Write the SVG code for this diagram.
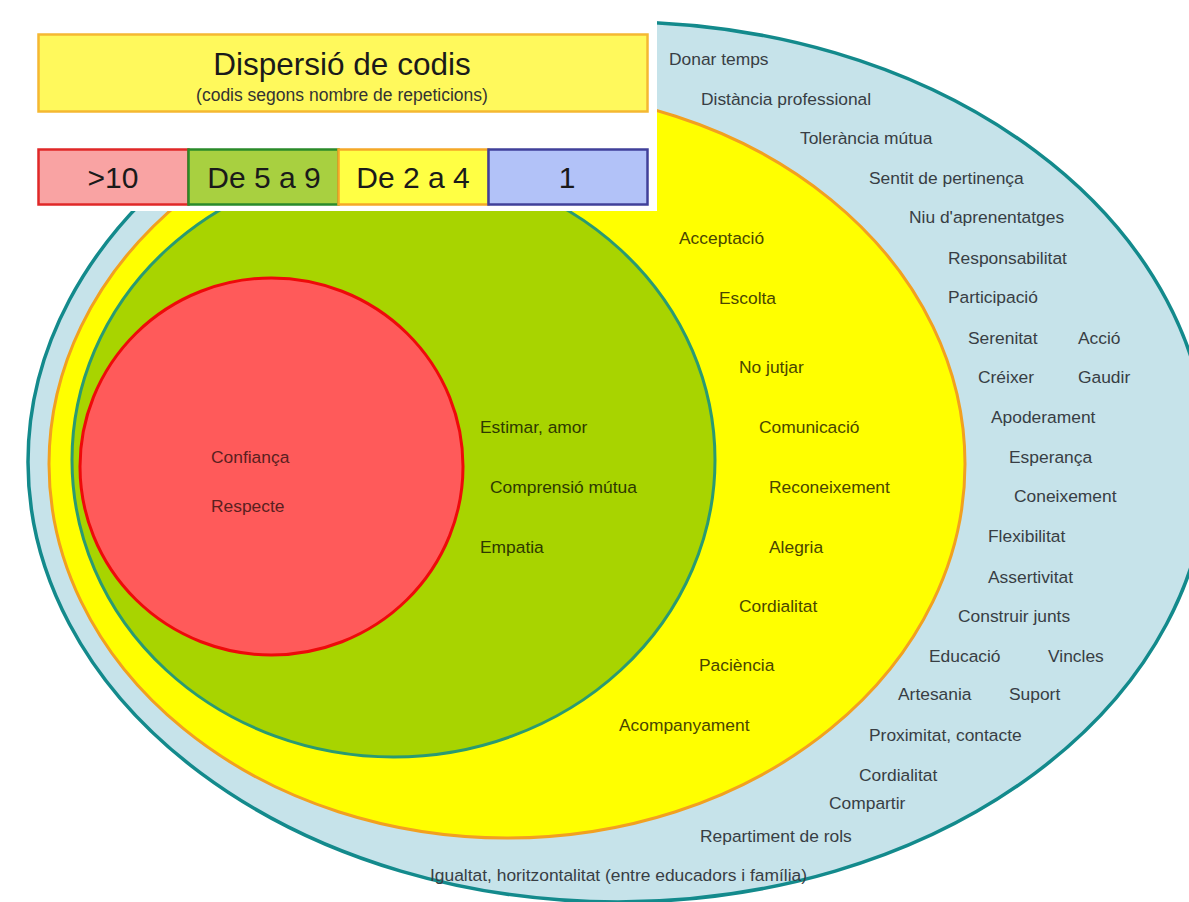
<svg xmlns="http://www.w3.org/2000/svg" width="1189" height="902" viewBox="0 0 1189 902">
<style>
.lbl{font-family:"Liberation Sans",Arial,sans-serif;font-size:17.4px;fill:#383e44}
.ly{fill:#4a4600}
.lg{fill:#2e3a00}
.lr{fill:#5a2020}
.leg{font-family:"Liberation Sans",Arial,sans-serif;font-size:30px;fill:#1a1a1a;text-anchor:middle}
</style>
<rect x="0" y="0" width="1189" height="902" fill="#ffffff"/>
<g id="ring-1">
<ellipse cx="618" cy="462" rx="590" ry="440" fill="#c6e3ea" stroke="#138a8c" stroke-width="3.5"/>
</g>
<g id="ring-2-4">
<ellipse cx="507" cy="464" rx="458" ry="374" fill="#ffff00" stroke="#f2a020" stroke-width="3"/>
</g>
<g id="ring-5-9">
<ellipse cx="393.5" cy="460" rx="321.5" ry="297" fill="#a8d400" stroke="#2a9a72" stroke-width="3"/>
</g>
<g id="core-10">
<ellipse cx="271.5" cy="466.5" rx="191.5" ry="188.5" fill="#ff5a5a" stroke="#ee0a0a" stroke-width="3"/>
</g>
<g id="legend-panel">
<rect x="0" y="0" width="657" height="211" fill="#ffffff"/>
</g>
<g id="title">
<rect x="38.5" y="34.5" width="609" height="77" fill="#fff95c" stroke="#f5b832" stroke-width="2.5"/>
<text x="342" y="75" font-family="'Liberation Sans',Arial,sans-serif" font-size="31.5" fill="#1a1a1a" text-anchor="middle">Dispersió de codis</text>
<text x="342" y="101" font-family="'Liberation Sans',Arial,sans-serif" font-size="17.5" fill="#333333" text-anchor="middle">(codis segons nombre de repeticions)</text>
</g>
<g id="legend-10">
<rect x="38.5" y="149.5" width="150" height="55" fill="#f9a3a3" stroke="#e02828" stroke-width="2.5"/>
<text class="leg" x="113" y="188">&gt;10</text>
</g>
<g id="legend-5-9">
<rect x="188.5" y="149.5" width="150" height="55" fill="#a8d040" stroke="#2a8a2a" stroke-width="2.5"/>
<text class="leg" x="264" y="188">De 5 a 9</text>
</g>
<g id="legend-2-4">
<rect x="338.5" y="149.5" width="150" height="55" fill="#ffff44" stroke="#f5a828" stroke-width="2.5"/>
<text class="leg" x="413" y="188">De 2 a 4</text>
</g>
<g id="legend-1">
<rect x="488.5" y="149.5" width="159" height="55" fill="#b2c2f8" stroke="#40409a" stroke-width="2.5"/>
<text class="leg" x="567" y="188">1</text>
</g>
<g id="connectors"></g>
<g id="labels-1">
<text class="lbl" x="669" y="65">Donar temps</text>
<text class="lbl" x="701" y="105">Distància professional</text>
<text class="lbl" x="800" y="144">Tolerància mútua</text>
<text class="lbl" x="869" y="184">Sentit de pertinença</text>
<text class="lbl" x="909" y="223">Niu d'aprenentatges</text>
<text class="lbl" x="948" y="264">Responsabilitat</text>
<text class="lbl" x="948" y="303">Participació</text>
<text class="lbl" x="968" y="344">Serenitat</text>
<text class="lbl" x="1078" y="344">Acció</text>
<text class="lbl" x="978" y="383">Créixer</text>
<text class="lbl" x="1078" y="383">Gaudir</text>
<text class="lbl" x="991" y="423">Apoderament</text>
<text class="lbl" x="1009" y="463">Esperança</text>
<text class="lbl" x="1014" y="502">Coneixement</text>
<text class="lbl" x="988" y="542">Flexibilitat</text>
<text class="lbl" x="988" y="583">Assertivitat</text>
<text class="lbl" x="958" y="622">Construir junts</text>
<text class="lbl" x="929" y="662">Educació</text>
<text class="lbl" x="1048" y="662">Vincles</text>
<text class="lbl" x="898" y="700">Artesania</text>
<text class="lbl" x="1009" y="700">Suport</text>
<text class="lbl" x="869" y="741">Proximitat, contacte</text>
<text class="lbl" x="859" y="781">Cordialitat</text>
<text class="lbl" x="829" y="809">Compartir</text>
<text class="lbl" x="700" y="842">Repartiment de rols</text>
<text class="lbl" x="430" y="881">Igualtat, horitzontalitat (entre educadors i família)</text>
</g>
<g id="labels-2-4">
<text class="lbl ly" x="679" y="244">Acceptació</text>
<text class="lbl ly" x="719" y="304">Escolta</text>
<text class="lbl ly" x="739" y="373">No jutjar</text>
<text class="lbl ly" x="759" y="433">Comunicació</text>
<text class="lbl ly" x="769" y="493">Reconeixement</text>
<text class="lbl ly" x="769" y="553">Alegria</text>
<text class="lbl ly" x="739" y="612">Cordialitat</text>
<text class="lbl ly" x="699" y="671">Paciència</text>
<text class="lbl ly" x="619" y="731">Acompanyament</text>
</g>
<g id="labels-5-9">
<text class="lbl lg" x="480" y="433">Estimar, amor</text>
<text class="lbl lg" x="490" y="493">Comprensió mútua</text>
<text class="lbl lg" x="480" y="553">Empatia</text>
</g>
<g id="labels-10">
<text class="lbl lr" x="211" y="463">Confiança</text>
<text class="lbl lr" x="211" y="512">Respecte</text>
</g>
</svg>
